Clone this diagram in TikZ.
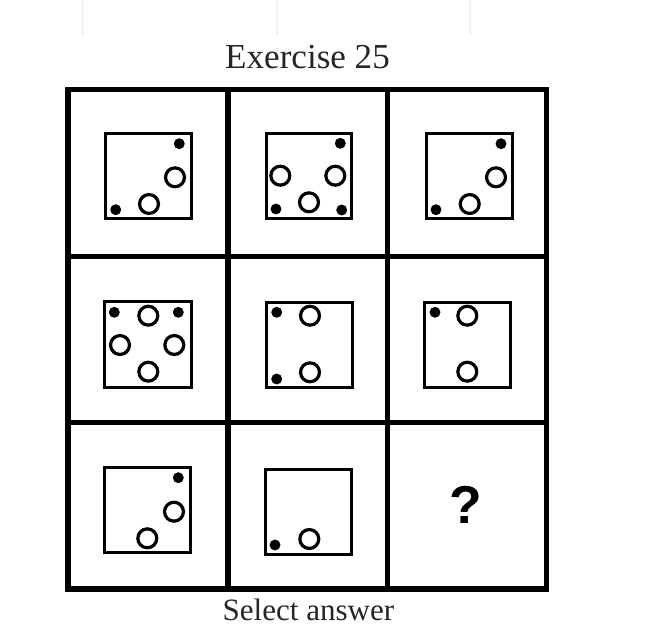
\documentclass[tikz,border=0pt]{standalone}
\usepackage{fontspec}
\setmainfont{Liberation Serif}
\newfontfamily\qfont{Liberation Sans}
\begin{document}
\begin{tikzpicture}[x=0.75pt,y=-0.75pt,
  gridline/.style={line width=4.1pt,draw=black},
  innerbox/.style={line width=2.3pt,draw=black},
  ring/.style={line width=2.4pt,draw=black},
  fdot/.style={fill=black},
  faint/.style={line width=1.6pt,draw=black!5}]
\useasboundingbox (0,0) rectangle (660,631);
% faint lines at top
\draw[faint] (82.5,0) -- (82.5,35);
\draw[faint] (277,0) -- (277,35);
\draw[faint] (470,0) -- (470,35);
% title
\node[anchor=base,inner sep=0pt,text=black!85,font=\fontsize{26.3pt}{30pt}\selectfont] (title) at (307.5,68.3) {Exercise 25};
% grid
\draw[gridline] (68,89.5) rectangle (546.5,589);
\draw[gridline] (228,89.5) -- (228,589);
\draw[gridline] (387.5,89.5) -- (387.5,589);
\draw[gridline] (68,256.5) -- (546.5,256.5);
\draw[gridline] (68,422.5) -- (546.5,422.5);
% cell 1
\draw[innerbox] (105.8,133.2) rectangle (191.8,218.5);
\fill[fdot] (179.3,143.7) circle[radius=4.1pt];
\draw[ring] (175,177.3) circle[radius=7.1pt];
\draw[ring] (149,204) circle[radius=7.1pt];
\fill[fdot] (115.7,209.7) circle[radius=4.1pt];
% cell 2
\draw[innerbox] (266.5,133.2) rectangle (351.8,218.5);
\fill[fdot] (340.3,143.3) circle[radius=4.1pt];
\draw[ring] (280.3,175.7) circle[radius=7.1pt];
\draw[ring] (335.3,175.7) circle[radius=7.1pt];
\draw[ring] (309,202.3) circle[radius=7.1pt];
\fill[fdot] (276,209) circle[radius=4.1pt];
\fill[fdot] (341.7,210) circle[radius=4.1pt];
% cell 3
\draw[innerbox] (426.5,133.2) rectangle (512.8,218.5);
\fill[fdot] (501,143.7) circle[radius=4.1pt];
\draw[ring] (496,177.3) circle[radius=7.1pt];
\draw[ring] (469.7,204) circle[radius=7.1pt];
\fill[fdot] (436,209.7) circle[radius=4.1pt];
% cell 4
\draw[innerbox] (104.8,301.5) rectangle (191.2,387.5);
\fill[fdot] (114.3,312.3) circle[radius=4.1pt];
\fill[fdot] (178.3,312.3) circle[radius=4.1pt];
\draw[ring] (148.3,315.7) circle[radius=7.1pt];
\draw[ring] (120,345) circle[radius=7.1pt];
\draw[ring] (174.3,345) circle[radius=7.1pt];
\draw[ring] (148.3,371.7) circle[radius=7.1pt];
% cell 5
\draw[innerbox] (266.5,302.5) rectangle (352.5,387.5);
\fill[fdot] (276.7,312.3) circle[radius=4.1pt];
\fill[fdot] (276.7,379) circle[radius=4.1pt];
\draw[ring] (310,315.7) circle[radius=7.1pt];
\draw[ring] (310,372.3) circle[radius=7.1pt];
% cell 6
\draw[innerbox] (424.8,302.5) rectangle (510.8,387.5);
\fill[fdot] (435,312.3) circle[radius=4.1pt];
\draw[ring] (467.3,315.7) circle[radius=7.1pt];
\draw[ring] (467.3,371.7) circle[radius=7.1pt];
% cell 7
\draw[innerbox] (104.2,467.5) rectangle (190.2,552.8);
\fill[fdot] (178.3,477.7) circle[radius=4.1pt];
\draw[ring] (174,511.7) circle[radius=7.1pt];
\draw[ring] (147.3,538.3) circle[radius=7.1pt];
% cell 8
\draw[innerbox] (265.5,469.2) rectangle (351.8,554.5);
\fill[fdot] (275,545) circle[radius=4.1pt];
\draw[ring] (309.3,539) circle[radius=7.1pt];
% cell 9
\node[inner sep=0pt,font=\qfont\bfseries\fontsize{40pt}{44pt}\selectfont] (qmark) at (466,505) {?};
% footer
\node[anchor=base,inner sep=0pt,text=black!85,font=\fontsize{23.3pt}{27pt}\selectfont] (select) at (308.4,620) {Select answer};
\end{tikzpicture}
\end{document}
